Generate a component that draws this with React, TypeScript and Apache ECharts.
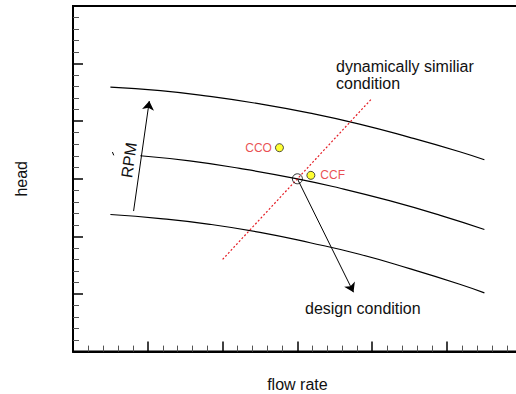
import React, { useEffect, useRef } from "react";
import * as echarts from "echarts";

// Pump head curves at three speeds (flow rate, head)
const topCurveX = [0.5, 1.17, 1.83, 2.5, 3.17, 3.83, 4.5, 5.17, 5.5];
const topCurveY = [4.59, 4.53, 4.43, 4.30, 4.14, 3.95, 3.72, 3.47, 3.33];
const midCurveX = [0.9, 1.56, 2.23, 3.0, 3.56, 4.23, 4.9, 5.5];
const midCurveY = [3.40, 3.31, 3.18, 3.0, 2.84, 2.62, 2.37, 2.12];
const lowCurveX = [0.5, 1.17, 1.83, 2.5, 3.17, 3.83, 4.5, 5.17, 5.5];
const lowCurveY = [2.38, 2.31, 2.21, 2.07, 1.89, 1.69, 1.44, 1.17, 1.02];

// Dynamically similar condition line
const similarLine = [[2.0, 1.6], [4.0, 4.4]];
// Design point and operating points
const designPoint = [3.0, 3.0];
const ccoPoint = [2.76, 3.54];
const ccfPoint = [3.18, 3.06];
// Arrows
const designArrow = [[3.0, 3.0], [3.75, 1.03]];
const rpmArrow = [[0.81, 2.44], [1.02, 4.35]];
const rpmMark = [[0.527, 3.465], [0.545, 3.407]];

const axisMin = 0;
const axisMax = 6;
const axisInterval = 1;

const zip = (xs: number[], ys: number[]) => xs.map((x, i) => [x, ys[i]]);

const RED = "#e41e26";
const FONT = "'Liberation Sans', Arial, sans-serif";

export default function App() {
  const ref = useRef<HTMLDivElement>(null);
  useEffect(() => {
    if (!ref.current) return;
    const chart = echarts.init(ref.current, null, { renderer: "svg" });
    const curveStyle = { color: "#000", width: 1.2 };
    const axisCommon = {
      type: "value" as const,
      min: axisMin,
      max: axisMax,
      interval: axisInterval,
      axisLabel: { show: false },
      splitLine: { show: false },
      axisLine: { show: true, lineStyle: { color: "#000", width: 2 } },
      axisTick: { show: true, inside: true, length: 10, lineStyle: { color: "#000", width: 1.5 } },
      minorTick: { show: true, splitNumber: 5, length: 6, lineStyle: { color: "#555", width: 1 } },
      nameLocation: "middle" as const,
      nameTextStyle: { fontSize: 16, color: "#111", fontFamily: FONT },
    };
    chart.setOption({
      animation: false,
      textStyle: { fontFamily: FONT },
      grid: {
        left: 73,
        top: 6,
        width: 448.8,
        height: 345.6,
        outerBoundsMode: "none",
        containLabel: false,
        show: true,
        borderColor: "#000",
        borderWidth: 2,
        backgroundColor: "transparent",
      },
      xAxis: { ...axisCommon, name: "flow rate", nameGap: 25 },
      yAxis: { ...axisCommon, name: "head", nameGap: 44 },
      series: [
        { type: "line", data: zip(topCurveX, topCurveY), smooth: true, showSymbol: false, lineStyle: curveStyle },
        { type: "line", data: zip(midCurveX, midCurveY), smooth: true, showSymbol: false, lineStyle: curveStyle },
        { type: "line", data: zip(lowCurveX, lowCurveY), smooth: true, showSymbol: false, lineStyle: curveStyle },
        {
          type: "line",
          data: similarLine,
          showSymbol: false,
          lineStyle: { color: RED, width: 1.2, type: [2, 2] },
        },
        {
          type: "line",
          data: rpmMark,
          showSymbol: false,
          lineStyle: { color: "#000", width: 1 },
        },
        {
          type: "lines",
          coordinateSystem: "cartesian2d",
          symbol: ["none", "arrow"],
          symbolSize: 9,
          lineStyle: { color: "#000", width: 1, opacity: 1 },
          data: [{ coords: designArrow }, { coords: rpmArrow }],
        },
        {
          type: "scatter",
          data: [designPoint],
          symbol: "circle",
          symbolSize: 10,
          itemStyle: { color: "transparent", borderColor: "#000", borderWidth: 1 },
          z: 5,
        },
        {
          type: "scatter",
          data: [ccoPoint],
          symbolSize: 8,
          itemStyle: { color: "#ffff00", borderColor: "#222", borderWidth: 1 },
          label: { show: true, formatter: "CCO", position: "left", distance: 3, color: RED, fontSize: 12, fontFamily: FONT },
          z: 5,
        },
        {
          type: "scatter",
          data: [ccfPoint],
          symbolSize: 8,
          itemStyle: { color: "#ffff00", borderColor: "#222", borderWidth: 1 },
          label: { show: true, formatter: "CCF", position: "right", distance: 5, color: RED, fontSize: 12, fontFamily: FONT },
          z: 5,
        },
      ],
      graphic: [
        {
          type: "text",
          left: 336,
          top: 58,
          style: {
            text: "dynamically similiar\ncondition",
            fontSize: 16,
            lineHeight: 17,
            fill: "#111",
            fontFamily: FONT,
          },
        },
        {
          type: "text",
          x: 305,
          y: 308,
          style: {
            text: "design condition",
            fontSize: 16,
            fill: "#111",
            fontFamily: FONT,
            verticalAlign: "middle",
          },
        },
        {
          type: "text",
          x: 129,
          y: 160,
          rotation: 1.426,
          style: {
            text: "RPM",
            fontSize: 16,
            fill: "#111",
            fontFamily: FONT,
            align: "center",
            verticalAlign: "middle",
          },
        },
      ],
    });
    return () => chart.dispose();
  }, []);
  return (
    <div style={{ position: "absolute", left: 0, top: 0, width: 516, height: 394, overflow: "hidden" }}>
      <div ref={ref} style={{ width: 516, height: 394 }} />
    </div>
  );
}
